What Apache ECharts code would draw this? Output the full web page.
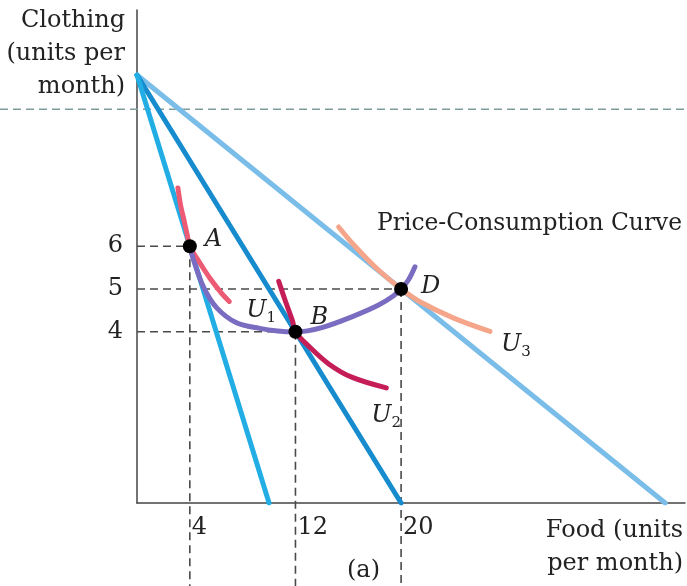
<!DOCTYPE html>
<html>
<head>
<meta charset="utf-8">
<title>Price-Consumption Curve</title>
<script src="https://cdn.jsdelivr.net/npm/echarts@6/dist/echarts.min.js"></script>
<style>
html, body { margin: 0; padding: 0; background: #fff; }
#main { width: 687px; height: 586px; }
</style>
</head>
<body>
<div id="main"></div>
<script>
// tick labels
var foodTicks = [4, 12, 20];
var clothingTicks = [4, 5, 6];

// budget lines: same clothing intercept, food price falls
var budget1 = [[0, 10], [10, 0]];
var budget2 = [[0, 10], [20, 0]];
var budget3 = [[0, 10], [40, 0]];

// indifference curves
var curveU1 = [[3.10, 7.36], [3.30, 6.96], [3.55, 6.62], [3.80, 6.27], [4.0, 6.0], [4.80, 5.59], [5.55, 5.24], [6.41, 4.90], [6.99, 4.71]];
var curveU2 = [[10.73, 5.18], [11.27, 4.69], [11.78, 4.25], [12, 4], [13.02, 3.66], [14.52, 3.25], [16.26, 2.94], [18.88, 2.69]];
var curveU3 = [[15.27, 6.45], [16.51, 6.0], [18.26, 5.45], [20, 5], [21.50, 4.69], [23.99, 4.32], [26.73, 4.01]];

// price-consumption curve
var priceConsumption = [[4, 6], [4.30, 5.66], [5.05, 5.04], [6.04, 4.56], [7.54, 4.21], [9.29, 4.08], [10.65, 4.02], [12, 4], [14.0, 4.1], [16.5, 4.38], [18.26, 4.62], [19.38, 4.83], [20, 5], [20.55, 5.21], [21.05, 5.52]];

// optimal bundles
var optimumPoints = [[4, 6], [12, 4], [20, 5]];
var optimumNames = ['A', 'B', 'D'];

// guides run past the food axis down to the page edge
var belowAxis = -1.95;
// dashed rule across the whole page (drawn on a full-width helper grid)
var topGuide = [[-10.375, 9.2], [41.6, 9.2]];

var serif = 'DejaVu Serif';
var chart = echarts.init(document.getElementById('main'));

function guide(data, color) {
  return {
    type: 'line', data: data, symbol: 'none', clip: false, silent: true, z: 1,
    lineStyle: { color: color || '#4a4a4a', width: 1.6, type: [8, 5] }
  };
}

function curve(data, color, z) {
  return {
    type: 'line', data: data, symbol: 'none', smooth: 0.35, z: z || 3,
    lineStyle: { color: color, width: 5, cap: 'round' }
  };
}

function uLabel(n, offset) {
  return {
    show: true, offset: offset, formatter: '{u|U}{s|' + n + '}',
    rich: {
      u: { fontFamily: serif, fontStyle: 'italic', fontSize: 24, lineHeight: 30, color: '#222' },
      s: { fontFamily: serif, fontSize: 15, lineHeight: 15, verticalAlign: 'bottom', color: '#222' }
    }
  };
}

var topRule = guide(topGuide, '#7f9c9c');
topRule.xAxisIndex = 1;
topRule.yAxisIndex = 1;
var series = [topRule];
optimumPoints.forEach(function (p) {
  series.push(guide([[0, p[1]], [p[0], p[1]]]));
  series.push(guide([[p[0], p[1]], [p[0], belowAxis]]));
});

series.push(curve(budget3, '#79bde8', 2));
series.push(curve(budget2, '#168ccf', 2));
series.push(curve(budget1, '#22aee5', 2));

var u1 = curve(curveU1, '#ec5a73'); u1.endLabel = uLabel(1, [9, 9]);
var u2 = curve(curveU2, '#c41d58'); u2.endLabel = uLabel(2, [-23, 28]);
var u3 = curve(curveU3, '#f5a58a'); u3.endLabel = uLabel(3, [3, 13]);
series.push(u1, u2, u3);
series.push(curve(priceConsumption, '#7a6cc0', 4));

var pointOffsets = [[0, -6], [0, -14], [5, -2]];
series.push({
  type: 'scatter', symbolSize: 14, z: 10,
  itemStyle: { color: '#000', opacity: 1 },
  label: {
    show: true, position: 'right', distance: 8, formatter: '{b}',
    fontFamily: serif, fontStyle: 'italic', fontSize: 24, color: '#222'
  },
  data: optimumPoints.map(function (p, i) {
    return { value: p, name: optimumNames[i], label: { offset: pointOffsets[i] } };
  })
});

var option = {
  animation: false,
  textStyle: { fontFamily: serif },
  title: [
    { text: 'Price-Consumption Curve', left: 377, top: 212, padding: 0,
      textStyle: { fontFamily: serif, fontWeight: 'normal', fontSize: 23.4, color: '#222' } },
    { text: '(a)', left: 347, top: 559, padding: 0,
      textStyle: { fontFamily: serif, fontWeight: 'normal', fontSize: 24, color: '#222' } }
  ],
  grid: [
    { left: 137, right: 2, top: 10, bottom: 83 },
    { left: 0, right: 2, top: 10, bottom: 83 }
  ],
  xAxis: [{
    type: 'value', min: 0, max: 41.5,
    name: 'Food (units\nper month)', nameLocation: 'end', nameGap: -2,
    nameTextStyle: { fontFamily: serif, fontSize: 24, color: '#222', align: 'right', verticalAlign: 'top', lineHeight: 33, padding: [11, 0, 0, 0] },
    axisLine: { lineStyle: { color: '#444', width: 1.5 } },
    axisTick: { show: false },
    splitLine: { show: false },
    axisLabel: { customValues: foodTicks, align: 'left', padding: [0, 0, 0, 2], margin: 13, fontFamily: serif, fontSize: 24, color: '#222' }
  }, {
    gridIndex: 1, type: 'value', min: -10.375, max: 41.5, show: false
  }],
  yAxis: [{
    type: 'value', min: 0, max: 11.52,
    name: 'Clothing\n(units per\nmonth)', nameLocation: 'end', nameGap: 6,
    nameTextStyle: { fontFamily: serif, fontSize: 24, color: '#222', align: 'right', verticalAlign: 'top', lineHeight: 33, padding: [0, 12, 0, 0] },
    axisLine: { lineStyle: { color: '#444', width: 1.5 } },
    axisTick: { show: false },
    splitLine: { show: false },
    axisLabel: { customValues: clothingTicks, margin: 14, fontFamily: serif, fontSize: 24, color: '#222' }
  }, {
    gridIndex: 1, type: 'value', min: 0, max: 11.52, show: false
  }],
  series: series
};

chart.setOption(option);
</script>
</body>
</html>
